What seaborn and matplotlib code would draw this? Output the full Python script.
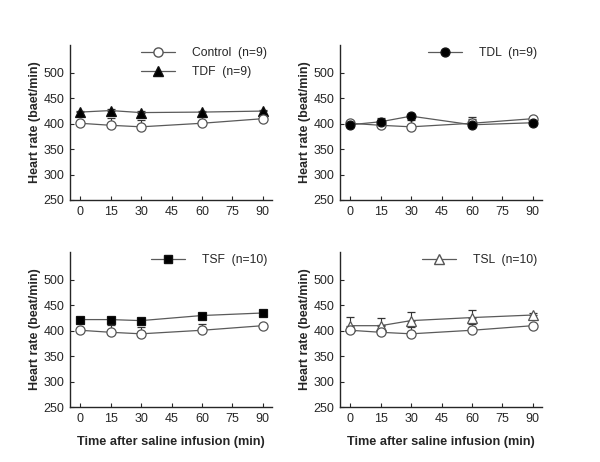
import matplotlib
matplotlib.use("Agg")
import matplotlib.pyplot as plt
from matplotlib.lines import Line2D
import seaborn as sns
import numpy as np
import pandas as pd

times = [0, 15, 30, 60, 90]
x_ticks = [0, 15, 30, 45, 60, 75, 90]
y_ticks = [250, 300, 350, 400, 450, 500]

control = [401, 397, 394, 401, 410]
control_err = [3, 14, 13, 13, 3]
tdf = [423, 426, 422, 423, 425]
tdf_err = [3, 3, 3, 3, 3]
tdl = [398, 404, 415, 398, 402]
tdl_err = [3, 3, 3, 12, 3]
tsf = [422, 422, 420, 430, 435]
tsf_err = [3, 3, 3, 3, 3]
tsl = [410, 410, 420, 426, 431]
tsl_err = [17, 16, 17, 14, 3]

sns.set_style("ticks")
plt.rcParams['font.family'] = ['Liberation Sans', 'DejaVu Sans']

fig = plt.figure(figsize=(6, 4.62), dpi=100)
W, H = 600, 462
def add_ax(l, t, r, b):
    return fig.add_axes([l / W, 1 - b / H, (r - l) / W, (b - t) / H])

axes = [add_ax(70, 45, 272, 200), add_ax(340, 45, 542, 200),
        add_ax(70, 252, 272, 407), add_ax(340, 252, 542, 407)]

LC = "#5a5a5a"

def draw(ax, vals, err, marker, face, ms):
    ax.errorbar(times, vals, yerr=[np.zeros(len(err)), err], fmt='none',
                ecolor="#333333", elinewidth=0.8, capsize=2.6, capthick=0.9, zorder=1)
    sns.lineplot(x=times, y=vals, ax=ax, color=LC, linewidth=0.9, marker=marker,
                 markersize=ms, markerfacecolor=face, markeredgecolor="#111111" if face != "white" else "#555555",
                 markeredgewidth=0.9, zorder=3)

series = [
    (tdf, tdf_err, "^", "black", 6.8, "TDF  (n=9)"),
    (tdl, tdl_err, "o", "black", 6.4, "TDL  (n=9)"),
    (tsf, tsf_err, "s", "black", 6.4, "TSF  (n=10)"),
    (tsl, tsl_err, "^", "white", 6.8, "TSL  (n=10)"),
]
ylabels = ["Heart rate (baet/min)", "Heart rate (beat/min)",
           "Heart rate (beat/min)", "Heart rate (beat/min)"]

for i, ax in enumerate(axes):
    vals, err, mk, face, ms, lab = series[i]
    if i == 1:
        draw(ax, control, control_err, "o", "white", 6.6)
        draw(ax, vals, err, mk, face, ms)
    else:
        draw(ax, vals, err, mk, face, ms)
        draw(ax, control, control_err, "o", "white", 6.6)
    ax.set_xlim(-5, 94.5)
    ax.set_ylim(250, 555)
    ax.set_xticks(x_ticks)
    ax.set_yticks(y_ticks)
    ax.tick_params(direction="in", length=3, width=0.8, labelsize=9, pad=4)
    for s in ["top", "right"]:
        ax.spines[s].set_visible(False)
    for s in ["left", "bottom"]:
        ax.spines[s].set_linewidth(1.0)
    ax.set_ylabel(ylabels[i], fontsize=9, fontweight="bold", labelpad=2)
    if i >= 2:
        ax.set_xlabel("Time after saline infusion (min)", fontsize=9.2,
                      fontweight="bold", labelpad=8)
    else:
        ax.set_xlabel("")
    handles = []
    if i == 0:
        handles.append(Line2D([], [], color=LC, lw=0.9, marker="o", ms=6.6,
                              mfc="white", mec="#555555", label="Control  (n=9)"))
    handles.append(Line2D([], [], color=LC, lw=0.9, marker=mk, ms=ms, mfc=face,
                          mec="#111111" if face != "white" else "#555555", label=lab))
    leg = ax.legend(handles=handles, loc="upper right", frameon=False, fontsize=8.7,
                    handlelength=2.8, handletextpad=1.4, borderaxespad=0.0,
                    bbox_to_anchor=(1.0, 1.02), labelspacing=0.6)

fig.savefig("out.png", dpi=100)
